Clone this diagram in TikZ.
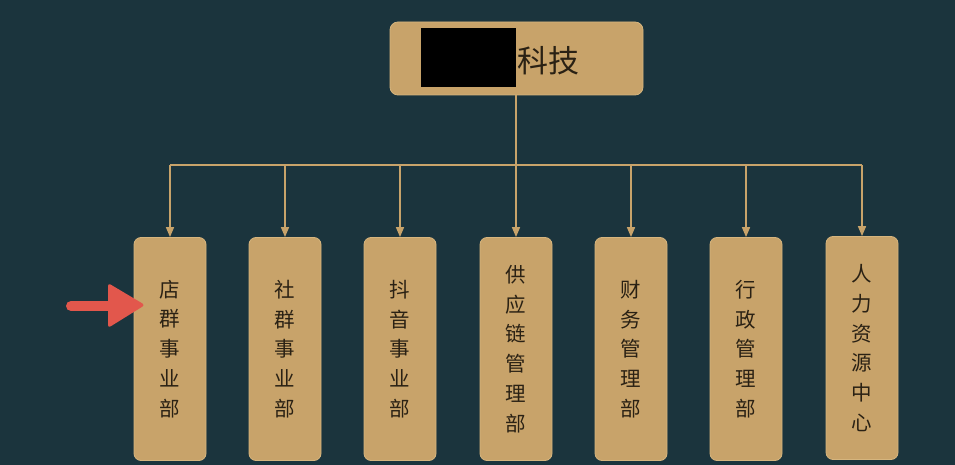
\documentclass[tikz,border=0pt]{standalone}
\usepackage{fontspec}
\newfontfamily\cjk{Noto Sans CJK SC}
\usetikzlibrary{arrows.meta}
\definecolor{bgteal}{HTML}{1B343D}
\definecolor{gold}{HTML}{C8A36A}
\definecolor{goldedge}{HTML}{D6B57E}
\definecolor{ink}{HTML}{2A2114}
\definecolor{pointer}{HTML}{E2574C}
\tikzset{
  deptbox/.style={draw=goldedge, line width=0.8pt, fill=gold, rounded corners=7pt,
    minimum width=72pt, minimum height=223pt, inner sep=0pt, align=center,
    text=ink, font=\cjk\fontsize{20.5}{29.8}\selectfont},
  headbox/.style={draw=goldedge, line width=0.8pt, fill=gold, rounded corners=8pt,
    minimum width=253pt, minimum height=73pt, inner sep=0pt},
  link/.style={draw=gold, line width=1.6pt},
  feed/.style={link, -{Triangle[width=8pt,length=10pt]}},
}
\begin{document}
\begin{tikzpicture}[x=1pt,y=-1pt]
  \fill[bgteal] (0,0) rectangle (955,465);
  \useasboundingbox (0,0) rectangle (955,465);

  % head office
  \node[headbox] (hq) at (516.5,58.5) {};
  \fill[black] (421,28) rectangle (516,87);
  \node[text=ink, font=\cjk\fontsize{31}{32}\selectfont, anchor=west, inner sep=0pt]
    (hqname) at (517.5,61) {科技};

  % departments
  \node[deptbox] (d1) at (170,349) {店\\群\\事\\业\\部};
  \node[deptbox] (d2) at (285,349) {社\\群\\事\\业\\部};
  \node[deptbox] (d3) at (400,349) {抖\\音\\事\\业\\部};
  \node[deptbox] (d4) at (516,349) {供\\应\\链\\管\\理\\部};
  \node[deptbox] (d5) at (631,349) {财\\务\\管\\理\\部};
  \node[deptbox] (d6) at (746,349) {行\\政\\管\\理\\部};
  \node[deptbox] (d7) at (862,348) {人\\力\\资\\源\\中\\心};

  % trunk and branches
  \coordinate (bus) at (516,165);
  \coordinate (busL) at (170,165);
  \coordinate (busR) at (862,165);
  \draw[link] (bus |- hq.south) -- (bus);
  \draw[link] (busL) -- (busR);
  \foreach \d in {d1,d2,d3,d4,d5,d6,d7}
    \draw[feed] (bus -| \d.north) -- (\d.north);

  % red pointer
  \coordinate (ptail) at (71,306);
  \coordinate (pneck) at (110,306);
  \draw[pointer, line width=10pt, line cap=round] (ptail) -- (pneck);
  \fill[pointer, rounded corners=3pt] (108,283) -- (145,305) -- (108,328) -- cycle;
\end{tikzpicture}
\end{document}
